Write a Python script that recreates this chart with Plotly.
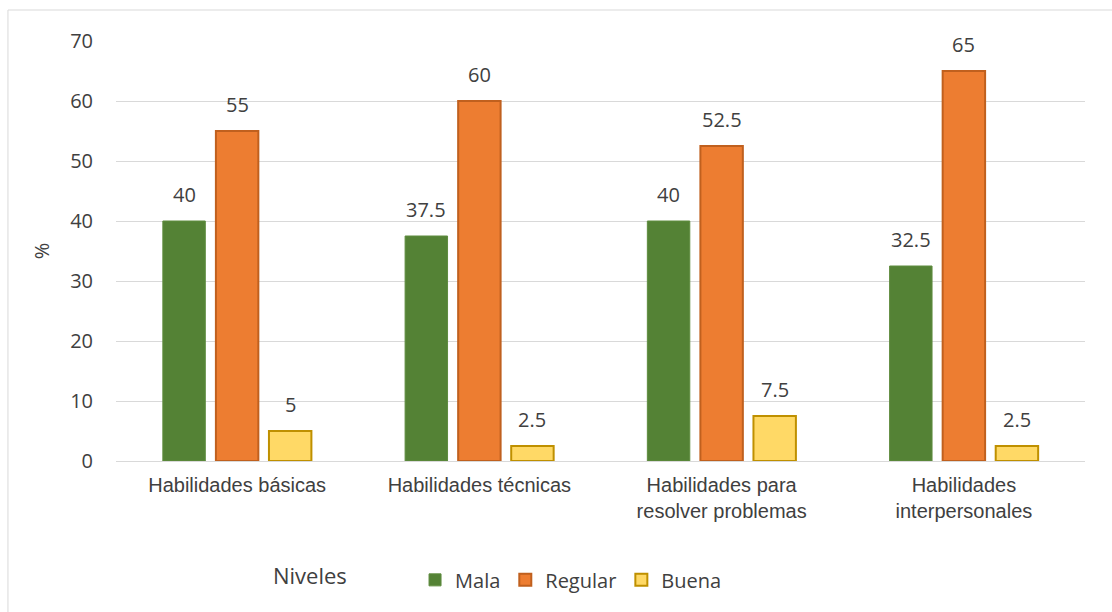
import plotly.graph_objects as go

categories = ["Habilidades básicas", "Habilidades técnicas",
              "Habilidades para<br>resolver problemas", "Habilidades<br>interpersonales"]
series_names = ["Mala", "Regular", "Buena"]
mala = [40, 37.5, 40, 32.5]
regular = [55, 60, 52.5, 65]
buena = [5, 2.5, 7.5, 2.5]
y_ticks = [0, 10, 20, 30, 40, 50, 60, 70]

fills = ["#548235", "#ED7D31", "#FFD966"]
borders = ["#5E8C3E", "#C0601E", "#BF9000"]
bwidths = [1, 2, 2]

W, H = 1112, 612
ML, MR, MT, MB = 116, 27, 41, 151
BARGAP, BARGROUPGAP = 0.343, 0.2

fig = go.Figure()
all_series = [mala, regular, buena]
for name, vals, fc, bc, bw in zip(series_names, all_series, fills, borders, bwidths):
    fig.add_trace(go.Bar(
        name=name, x=categories, y=vals,
        marker=dict(color=fc, line=dict(color=bc, width=bw)),
    ))

# data labels as annotations, offset within each group
plot_w = W - ML - MR
slot = plot_w / len(categories) * (1 - BARGAP) / len(series_names)
annotations = []
for i, vals in enumerate(all_series):
    shift = (i - (len(series_names) - 1) / 2) * slot
    for cat, v in zip(categories, vals):
        annotations.append(dict(
            x=cat, y=v, xref="x", yref="y", text=f"{v:g}", showarrow=False,
            xanchor="center", yanchor="bottom", xshift=shift, yshift=11,
            font=dict(family="Open Sans, sans-serif", size=20, color="#404040")))

annotations.append(dict(text="Niveles", xref="paper", yref="paper", x=0.2,
                        y=-0.271, xanchor="center", yanchor="middle", showarrow=False,
                        font=dict(family="Open Sans, sans-serif", size=22, color="#404040")))

fig.update_layout(
    width=W, height=H,
    margin=dict(l=ML, r=MR, t=MT, b=MB),
    paper_bgcolor="white", plot_bgcolor="white",
    barmode="group", bargap=BARGAP, bargroupgap=BARGROUPGAP,
    showlegend=True,
    legend=dict(orientation="h", x=0.3086, xanchor="left", y=-0.283, yanchor="middle",
                font=dict(family="Open Sans, sans-serif", size=20, color="#404040"),
                itemwidth=30, tracegroupgap=0, traceorder="normal"),
    xaxis=dict(showgrid=False, showline=True, linecolor="#D9D9D9", linewidth=1,
               tickfont=dict(family="Liberation Sans, Arial, sans-serif", size=20, color="#404040"),
               ticks="", ticklabelstandoff=6),
    yaxis=dict(range=[0, 70], tickvals=y_ticks, showgrid=True, gridcolor="#D9D9D9", gridwidth=1,
               zeroline=False, showline=False,
               tickfont=dict(family="Open Sans, sans-serif", size=20, color="#404040"),
               ticklabelstandoff=22,
               title=dict(text="%", font=dict(family="Open Sans, sans-serif", size=20, color="#404040"),
                          standoff=15)),
    annotations=annotations,
    shapes=[dict(type="rect", xref="paper", yref="paper", x0=-0.1115, x1=1.1, y0=-0.45, y1=1.0738,
                 line=dict(color="#D9D9D9", width=1), fillcolor="rgba(0,0,0,0)", layer="below")],
)

fig.write_html("out.html")
